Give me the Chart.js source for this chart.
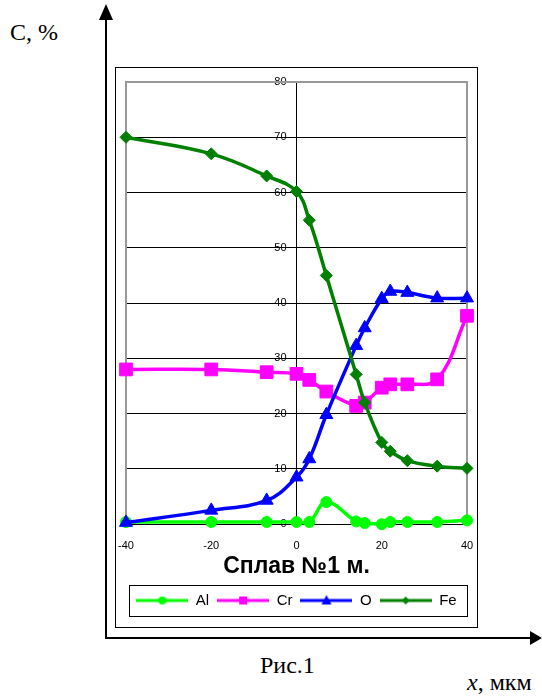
<!DOCTYPE html>
<html>
<head>
<meta charset="utf-8">
<title>Сплав №1 м.</title>
<script src="https://cdn.jsdelivr.net/npm/chart.js@4.4.1/dist/chart.umd.min.js"></script>
<style>
  html, body { margin: 0; padding: 0; background: #fff; }
  #page { position: relative; width: 542px; height: 697px; overflow: hidden; background: #fff; }
  #frame { position: absolute; left: 115px; top: 67px; width: 361px; height: 559px; border: 1px solid #000; background: #fff; }
  #frame canvas { display: block; }
  #axes { position: absolute; left: 0; top: 0; }
  .serif { position: absolute; font-family: 'Liberation Serif', 'Times New Roman', serif; font-size: 24px; line-height: 1; color: #000; white-space: nowrap; }
</style>
</head>
<body>
<div id="page">
  <!-- outer coordinate arrows -->
  <svg id="axes" width="542" height="697" xmlns="http://www.w3.org/2000/svg">
    <line x1="106" y1="18" x2="106" y2="638" stroke="#000" stroke-width="2"/>
    <polygon points="106,4 99,20 113,20" fill="#000"/>
    <line x1="105" y1="638" x2="532" y2="638" stroke="#000" stroke-width="2"/>
    <polygon points="542,638 530,631 530,645" fill="#000"/>
  </svg>
  <div class="serif" style="left:10px; top:20px;">С, %</div>
  <div id="frame"><canvas id="chart" width="361" height="559"></canvas></div>
  <div class="serif" style="left:260px; top:653px;">Рис.1</div>
  <div class="serif" style="left:467px; top:670px;"><i>x</i>, мкм</div>
</div>

<script>
// depth positions, µm
const xPositions = [-40, -20, -7, 0, 3, 7, 14, 16, 20, 22, 26, 33, 40];

// element concentration, %
const alValues = [0.4, 0.4, 0.4, 0.4, 0.4, 4.0, 0.5, 0.2, 0.0, 0.4, 0.4, 0.4, 0.7];
const crValues = [28.0, 28.0, 27.5, 27.2, 26.1, 24.0, 21.4, 22.0, 24.7, 25.3, 25.3, 26.2, 37.7];
const oValues  = [0.3, 2.5, 4.3, 8.5, 11.8, 19.8, 32.3, 35.5, 40.8, 42.1, 41.9, 40.9, 40.9];
const feValues = [70.0, 67.0, 63.0, 60.2, 55.0, 45.0, 27.1, 22.0, 14.8, 13.2, 11.5, 10.5, 10.1];

const seriesNames = ['Al', 'Cr', 'O', 'Fe'];
const chartTitle = 'Сплав №1 м.';

// axis ranges and tick spacing
const xRange = [-40, 40];
const xStep = 20;
const yRange = [0, 80];
const yStep = 10;

const FONT = "'Liberation Sans', Arial, Helvetica, sans-serif";
Chart.defaults.font.family = FONT;
Chart.defaults.color = '#000';

function toPoints(values) {
  return xPositions.map((x, i) => ({ x: x, y: values[i] }));
}

// small marker painter for legend swatches
function paintMarker(g, style, cx, cy, r) {
  g.beginPath();
  if (style === 'circle') {
    g.arc(cx, cy, r, 0, Math.PI * 2);
  } else if (style === 'rect') {
    g.rect(cx - r, cy - r, 2 * r, 2 * r);
  } else if (style === 'triangle') {
    g.moveTo(cx, cy - r * 1.1);
    g.lineTo(cx + r, cy + r * 0.8);
    g.lineTo(cx - r, cy + r * 0.8);
    g.closePath();
  } else if (style === 'rectRot') {
    g.moveTo(cx, cy - r);
    g.lineTo(cx + r, cy);
    g.lineTo(cx, cy + r);
    g.lineTo(cx - r, cy);
    g.closePath();
  }
  g.fill();
}

function legendSwatch(color, style, r) {
  const c = document.createElement('canvas');
  c.width = 52; c.height = 14;
  const g = c.getContext('2d');
  g.strokeStyle = color;
  g.fillStyle = color;
  g.lineWidth = 3;
  g.beginPath(); g.moveTo(0, 7); g.lineTo(52, 7); g.stroke();
  paintMarker(g, style, 26, 7, r);
  return c;
}

const seriesStyle = [
  { color: '#00FF00', point: 'circle',   radius: 5.5, legendR: 4 },
  { color: '#FF00FF', point: 'rect',     radius: 9,   legendR: 4 },
  { color: '#0000FF', point: 'triangle', radius: 7.5, legendR: 5 },
  { color: '#008000', point: 'rectRot',  radius: 6,   legendR: 4 }
];
const seriesValues = [alValues, crValues, oValues, feValues];

const datasets = seriesNames.map((name, i) => ({
  label: name,
  data: toPoints(seriesValues[i]),
  borderColor: seriesStyle[i].color,
  backgroundColor: seriesStyle[i].color,
  pointBackgroundColor: seriesStyle[i].color,
  pointBorderColor: seriesStyle[i].color,
  pointBorderWidth: 1,
  pointStyle: seriesStyle[i].point,
  pointRadius: seriesStyle[i].radius,
  borderWidth: 3.5,
  tension: 0.4,
  fill: false,
  clip: false,
  order: seriesNames.length - 1 - i   // later series are painted on top
}));

// grey plot frame (left, top, right)
const plotFrame = {
  id: 'plotFrame',
  beforeDatasetsDraw(chart) {
    const a = chart.chartArea, g = chart.ctx;
    g.save();
    g.strokeStyle = '#999999';
    g.lineWidth = 2;
    g.beginPath();
    g.moveTo(a.left, a.bottom);
    g.lineTo(a.left, a.top);
    g.lineTo(a.right, a.top);
    g.lineTo(a.right, a.bottom);
    g.stroke();
    g.restore();
  }
};

// box round the legend entries
const legendFrame = {
  id: 'legendFrame',
  afterDraw(chart) {
    const boxes = chart.legend && chart.legend.legendHitBoxes;
    if (!boxes || !boxes.length) return;
    const first = boxes[0], last = boxes[boxes.length - 1];
    const g = chart.ctx;
    g.save();
    g.strokeStyle = '#000';
    g.lineWidth = 1;
    const l = Math.round(first.left - 7) + 0.5;
    const r = Math.round(last.left + last.width + 10) + 0.5;
    const t = Math.round(first.top - 8) + 0.5;
    const b = Math.round(first.top + first.height + 8) + 0.5;
    g.strokeRect(l, t, r - l, b - t);
    g.restore();
  }
};

new Chart(document.getElementById('chart'), {
  type: 'line',
  data: { datasets: datasets },
  options: {
    responsive: false,
    animation: false,
    devicePixelRatio: 1,
    layout: { padding: { top: 14, left: 10, right: 10, bottom: 9 } },
    scales: {
      x: {
        type: 'linear',
        position: 'bottom',
        min: xRange[0], max: xRange[1],
        ticks: { stepSize: xStep, font: { size: 11 }, color: '#000', padding: 0, maxRotation: 0 },
        grid: { drawOnChartArea: false, drawTicks: true, tickLength: 15, tickColor: 'rgba(0,0,0,0)' },
        border: { color: '#000', width: 1 }
      },
      y: {
        type: 'linear',
        position: 'center',
        min: yRange[0], max: yRange[1],
        ticks: { stepSize: yStep, font: { size: 11 }, color: '#000', padding: 2 },
        grid: { color: '#000', lineWidth: 1, tickLength: 8 },
        border: { color: '#000', width: 1 }
      }
    },
    plugins: {
      title: {
        display: true,
        text: chartTitle,
        position: 'bottom',
        weight: 500,
        color: '#000',
        font: { size: 23, weight: 'bold' },
        padding: { top: 0, bottom: 5 }
      },
      legend: {
        display: true,
        position: 'bottom',
        labels: {
          usePointStyle: true,
          pointStyleWidth: 52,
          padding: 8,
          color: '#000',
          font: { size: 15 },
          generateLabels() {
            return seriesNames.map((name, i) => ({
              text: name,
              pointStyle: legendSwatch(seriesStyle[i].color, seriesStyle[i].point, seriesStyle[i].legendR),
              fillStyle: seriesStyle[i].color,
              strokeStyle: seriesStyle[i].color,
              lineWidth: 0,
              hidden: false,
              datasetIndex: i
            }));
          }
        }
      },
      tooltip: { enabled: false }
    }
  },
  plugins: [plotFrame, legendFrame]
});
</script>
</body>
</html>
